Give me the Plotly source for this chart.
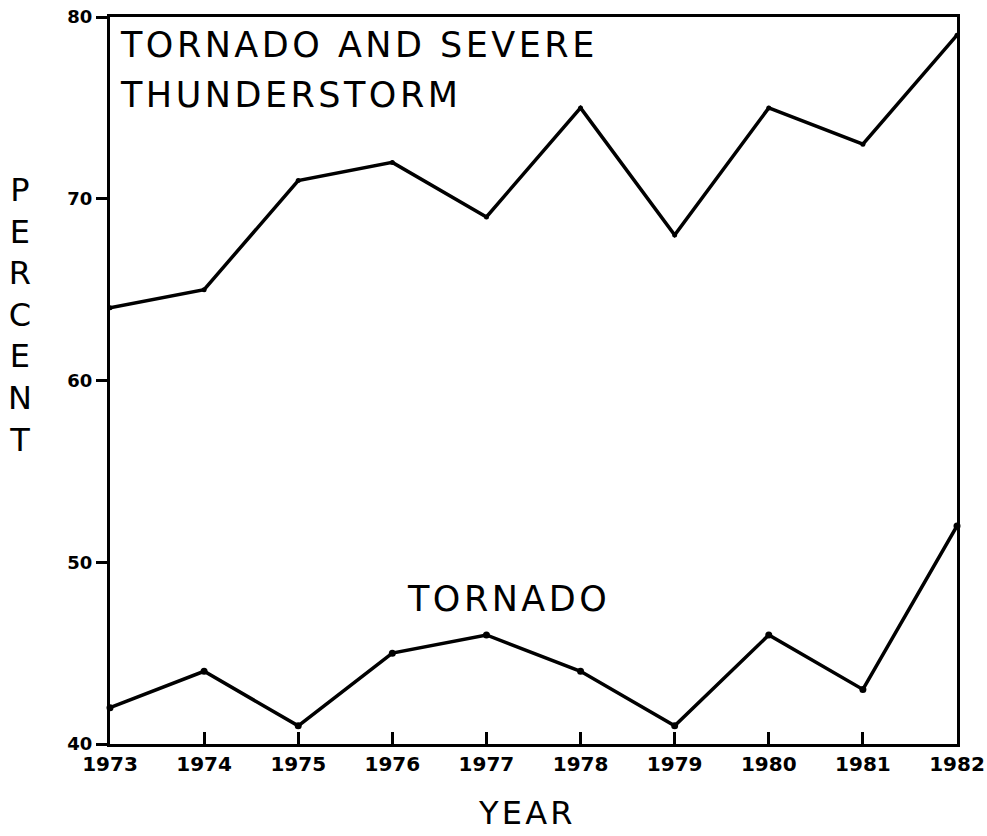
import plotly.graph_objects as go

years = [1973, 1974, 1975, 1976, 1977, 1978, 1979, 1980, 1981, 1982]
tornado_severe = [64, 65, 71, 72, 69, 75, 68, 75, 73, 79]
tornado = [42, 44, 41, 45, 46, 44, 41, 46, 43, 52]
y_ticks = [40, 50, 60, 70, 80]
y_ticklabels = ["40", "50", "60", "70", "80"]
x_ticklabels = [str(y) for y in years]

FONT = "DejaVu Sans"

fig = go.Figure()
fig.add_trace(go.Scatter(x=years, y=tornado_severe, mode="lines+markers",
                         line=dict(color="black", width=3.5),
                         marker=dict(color="black", size=5),
                         showlegend=False, cliponaxis=False))
fig.add_trace(go.Scatter(x=years, y=tornado, mode="lines+markers",
                         line=dict(color="black", width=3.5),
                         marker=dict(color="black", size=7),
                         showlegend=False, cliponaxis=False))

def spaced(s):
    return "\u200a".join(s)

fig.add_annotation(x=0.009, y=0.961, xref="paper", yref="paper", xanchor="left", yanchor="middle",
                   text=spaced("TORNADO AND SEVERE"), showarrow=False,
                   font=dict(family=FONT, size=35, color="black"))
fig.add_annotation(x=0.009, y=0.893, xref="paper", yref="paper", xanchor="left", yanchor="middle",
                   text=spaced("THUNDERSTORM"), showarrow=False,
                   font=dict(family=FONT, size=35, color="black"))
fig.add_annotation(x=1977.22, y=48.0, xanchor="center", yanchor="middle",
                   text=spaced("TORNADO"), showarrow=False,
                   font=dict(family=FONT, size=35, color="black"))
fig.add_annotation(x=-0.106, y=0.59, xref="paper", yref="paper", xanchor="center", yanchor="middle",
                   text="<br>".join("PERCENT"), showarrow=False,
                   font=dict(family=FONT, size=32, color="black"))
fig.add_annotation(x=0.49, y=-0.095, xref="paper", yref="paper", xanchor="center", yanchor="middle",
                   text=spaced("YEAR"), showarrow=False,
                   font=dict(family=FONT, size=32, color="black"))

fig.update_layout(
    width=987, height=836,
    margin=dict(l=110, r=30, t=17, b=92, autoexpand=False),
    paper_bgcolor="white", plot_bgcolor="white",
    xaxis=dict(range=[1973, 1982], tickmode="array", tickvals=years, ticktext=x_ticklabels,
               ticks="inside", ticklen=12, tickwidth=2.5, tickcolor="black",
               showline=True, linewidth=3, linecolor="black", mirror=True,
               showgrid=False, zeroline=False, automargin=False, ticklabeloverflow="allow",
               tickfont=dict(family=FONT, size=20, color="black", weight="bold")),
    yaxis=dict(range=[40, 80], tickmode="array", tickvals=y_ticks, ticktext=y_ticklabels,
               ticks="outside", ticklen=11, tickwidth=2.5, tickcolor="black",
               showline=True, linewidth=3, linecolor="black", mirror=True,
               showgrid=False, zeroline=False, automargin=False, ticklabeloverflow="allow",
               tickfont=dict(family=FONT, size=18, color="black", weight="bold")),
)

fig.write_html("out.html", config={"displayModeBar": False},
               post_script="document.body.style.margin='0';document.body.style.overflow='hidden';")
